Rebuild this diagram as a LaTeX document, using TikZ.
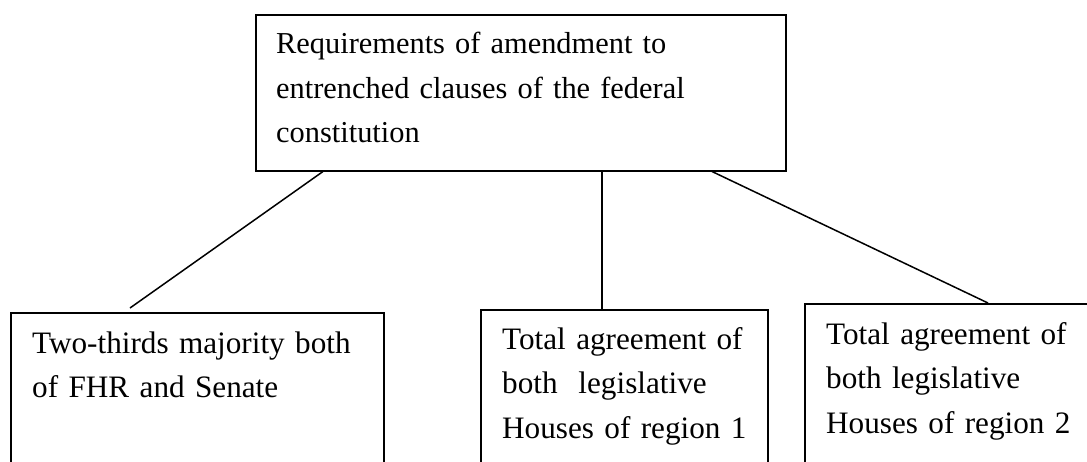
\documentclass[tikz,border=0pt]{standalone}
\usepackage{fontspec}
\setmainfont{Liberation Serif}
\usetikzlibrary{calc}
\begin{document}
\begin{tikzpicture}[x=1pt,y=-1pt,
  box/.style={draw=black, line width=1.5pt, rectangle, inner sep=0pt, anchor=north west},
  label/.style={anchor=base west, inner sep=0pt, text width=520pt, align=left,
    font=\fontsize{31.2}{44.5}\selectfont},
  link/.style={draw=black, line width=1.5pt}]
\useasboundingbox (0,0) rectangle (1087,461);
\clip (0,0) rectangle (1087,461);

% boxes (the lower three run past the bottom edge)
\node[box, minimum width=530pt, minimum height=156pt] (top) at (255,14) {};
\node[box, minimum width=373pt, minimum height=220pt] (left) at (10,312) {};
\node[box, minimum width=287pt, minimum height=220pt] (mid) at (480,309) {};
\node[box, minimum width=320pt, minimum height=220pt] (right) at (804,303) {};

% box texts
\node[label, font=\fontsize{30.4}{44.5}\selectfont] (toptxt) at ($(top.north west)+(21,39.5)$)
  {Requirements of amendment to\\entrenched clauses of the federal\\constitution};
\node[label] (lefttxt) at ($(left.north west)+(22,41)$)
  {Two-thirds majority both\\of FHR and Senate};
\node[label] (midtxt) at ($(mid.north west)+(22,40)$)
  {Total agreement of\\both\ \ legislative\\Houses of region 1};
\node[label] (righttxt) at ($(right.north west)+(22,41)$)
  {Total agreement of\\both legislative\\Houses of region 2};

% connectors
\draw[link] ($(top.south west)+(68,0)$) -- ($(left.north west)+(120,-4)$);
\draw[link] ($(top.south west)+(347,0)$) -- ($(mid.north west)+(122,0)$);
\draw[link] ($(top.south west)+(457,0)$) -- ($(right.north west)+(184,0)$);
\end{tikzpicture}
\end{document}
